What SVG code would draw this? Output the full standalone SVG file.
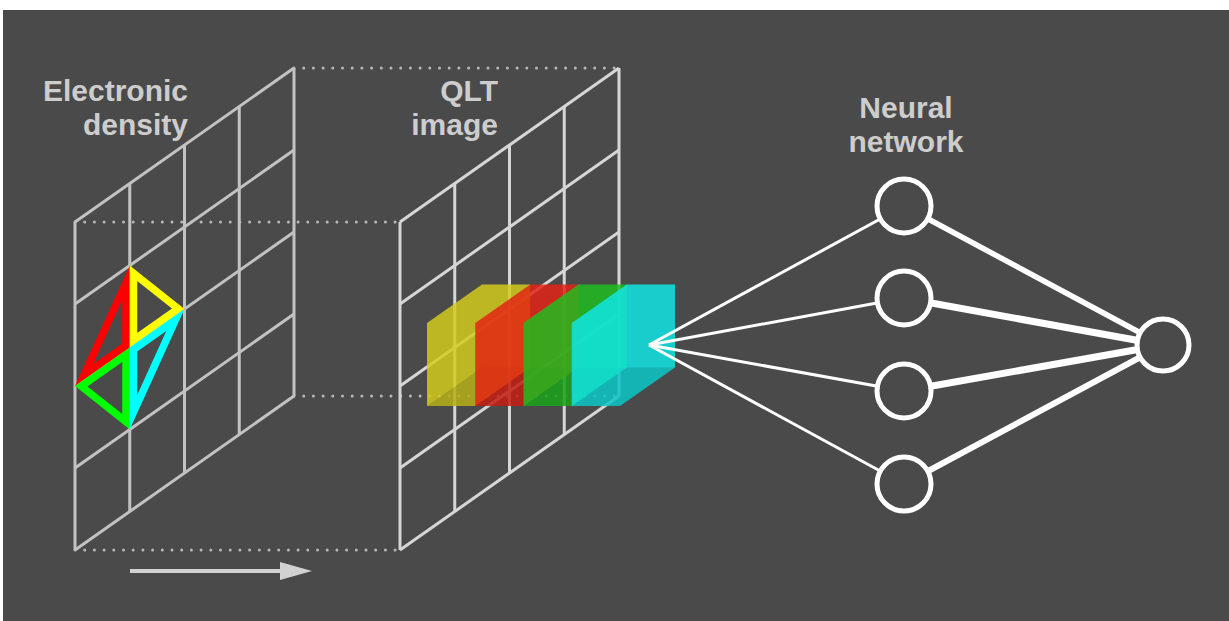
<svg xmlns="http://www.w3.org/2000/svg" width="1229" height="621" viewBox="0 0 1229 621">
  <defs>
    <style>
      .grid-ed { fill: none; stroke: #c2c2c2; stroke-width: 3; }
      .grid-qlt { fill: none; stroke: #d6d6d6; stroke-width: 3; }
      .dots { fill: none; stroke: #b9b9b9; stroke-width: 3; stroke-linecap: round; stroke-dasharray: 0 9.7; }
      .label { font-family: "Liberation Sans", Arial, sans-serif; font-weight: 700; font-size: 30px; fill: #cdcdcd; }
      .tri { fill: none; stroke-width: 15; stroke-linejoin: miter; }
      .box { fill-opacity: 0.84; }
      .box-bottom { fill: #000; fill-opacity: 0.12; }
      .link-in { stroke: #ffffff; stroke-width: 3; }
      .link-out { stroke: #ffffff; }
      .neuron { fill: #4a4a4a; stroke: #ffffff; stroke-width: 5; }
    </style>
    <clipPath id="clip-red"><polygon points="129.75,265.5 129.75,347.5 75,386"/></clipPath>
    <clipPath id="clip-yellow"><polygon points="129.75,265.5 184.5,309 129.75,347.5"/></clipPath>
    <clipPath id="clip-cyan"><polygon points="129.75,347.5 184.5,309 129.75,429.5"/></clipPath>
    <clipPath id="clip-green"><polygon points="75,386 129.75,347.5 129.75,429.5"/></clipPath>
  </defs>

  <!-- backdrop -->
  <rect x="3" y="10" width="1226" height="611" fill="#4a4a4a"/>

  <!-- hidden edges of the volume between the two planes -->
  <g id="volume-edges" class="dots">
    <line x1="294" y1="68" x2="619" y2="68"/>
    <line x1="75" y1="222" x2="400" y2="222"/>
    <line x1="294" y1="396" x2="619" y2="396"/>
    <line x1="75" y1="550" x2="400" y2="550"/>
  </g>

  <!-- electronic density plane -->
  <g id="density-grid" class="grid-ed">
    <path d="M75,222 V550 M129.75,183.5 V511.5 M184.5,145 V473 M239.25,106.5 V434.5 M294,68 V396"/>
    <path d="M75,222 L294,68 M75,304 L294,150 M75,386 L294,232 M75,468 L294,314 M75,550 L294,396"/>
  </g>

  <!-- coloured tetrahedra faces on the density plane -->
  <g id="density-triangles">
    <polygon class="tri" stroke="#ff0000" clip-path="url(#clip-red)" points="129.75,265.5 129.75,347.5 75,386"/>
    <polygon class="tri" stroke="#ffff00" clip-path="url(#clip-yellow)" points="129.75,265.5 184.5,309 129.75,347.5"/>
    <polygon class="tri" stroke="#00ffff" clip-path="url(#clip-cyan)" points="129.75,347.5 184.5,309 129.75,429.5"/>
    <polygon class="tri" stroke="#00ff00" clip-path="url(#clip-green)" points="75,386 129.75,347.5 129.75,429.5"/>
  </g>

  <!-- QLT image plane -->
  <g id="qlt-grid" class="grid-qlt">
    <path d="M400,222 V550 M454.75,183.5 V511.5 M509.5,145 V473 M564.25,106.5 V434.5 M619,68 V396"/>
    <path d="M400,222 L619,68 M400,304 L619,150 M400,386 L619,232 M400,468 L619,314 M400,550 L619,396"/>
  </g>

  <!-- QLT channel blocks -->
  <g id="qlt-channels">
    <g id="channel-yellow">
      <path class="box" fill="#d2cc1c" d="M427,323 L482,284.5 L530.25,284.5 L530.25,367.5 L475.25,406 L427,406 Z"/>
      <path class="box-bottom" d="M427,406 L475.25,406 L530.25,367.5 L482,367.5 Z"/>
    </g>
    <g id="channel-red">
      <path class="box" fill="#e42214" d="M475.25,323 L530.25,284.5 L578.5,284.5 L578.5,367.5 L523.5,406 L475.25,406 Z"/>
      <path class="box-bottom" d="M475.25,406 L523.5,406 L578.5,367.5 L530.25,367.5 Z"/>
    </g>
    <g id="channel-green">
      <path class="box" fill="#1ebe1e" d="M523.5,323 L578.5,284.5 L626.75,284.5 L626.75,367.5 L571.75,406 L523.5,406 Z"/>
      <path class="box-bottom" d="M523.5,406 L571.75,406 L626.75,367.5 L578.5,367.5 Z"/>
    </g>
    <g id="channel-cyan">
      <path class="box" fill="#10e6e6" d="M571.75,323 L626.75,284.5 L675,284.5 L675,367.5 L620,406 L571.75,406 Z"/>
      <path class="box-bottom" d="M571.75,406 L620,406 L675,367.5 L626.75,367.5 Z"/>
    </g>
  </g>

  <!-- direction arrow -->
  <g id="direction-arrow" fill="#d2d2d2">
    <rect x="130" y="569" width="152" height="4"/>
    <polygon points="280,562 312,571 280,580"/>
  </g>

  <!-- network connections -->
  <g id="connectors">
    <line class="link-in" x1="649" y1="345" x2="904" y2="206"/>
    <line class="link-in" x1="649" y1="345" x2="904" y2="298"/>
    <line class="link-in" x1="649" y1="345" x2="904" y2="391"/>
    <line class="link-in" x1="649" y1="345" x2="904" y2="484"/>
    <line class="link-out" stroke-width="5.5" x1="904" y1="206" x2="1163" y2="345"/>
    <line class="link-out" stroke-width="7" x1="904" y1="298" x2="1163" y2="345"/>
    <line class="link-out" stroke-width="7" x1="904" y1="391" x2="1163" y2="345"/>
    <line class="link-out" stroke-width="6" x1="904" y1="484" x2="1163" y2="345"/>
  </g>

  <!-- neurons -->
  <g id="hidden-1"><circle class="neuron" cx="904" cy="206" r="27"/></g>
  <g id="hidden-2"><circle class="neuron" cx="904" cy="298" r="27"/></g>
  <g id="hidden-3"><circle class="neuron" cx="904" cy="391" r="27"/></g>
  <g id="hidden-4"><circle class="neuron" cx="904" cy="484" r="27"/></g>
  <g id="output"><circle class="neuron" cx="1163" cy="345" r="26"/></g>

  <!-- labels -->
  <g id="label-density" class="label" text-anchor="end">
    <text x="188" y="101">Electronic</text>
    <text x="188" y="135">density</text>
  </g>
  <g id="label-qlt" class="label" text-anchor="end">
    <text x="498" y="101">QLT</text>
    <text x="498" y="135">image</text>
  </g>
  <g id="label-network" class="label" text-anchor="middle">
    <text x="906" y="118">Neural</text>
    <text x="906" y="152">network</text>
  </g>
</svg>
